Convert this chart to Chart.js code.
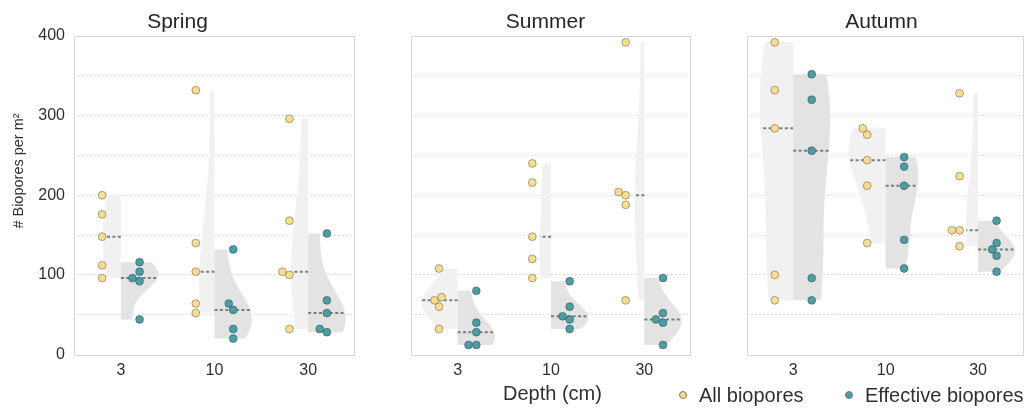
<!DOCTYPE html>
<html>
<head>
  <title>Biopores by depth</title>
  <script src="https://cdn.jsdelivr.net/npm/chart.js"></script>
  <style>
    body { margin: 0; background: #fff; width: 1029px; height: 413px; position: relative; overflow: hidden;
           font-family: 'Liberation Sans', Arial, sans-serif; color: #303030; }
    canvas { position: absolute; top: 0; }
    .lbl { position: absolute; white-space: nowrap; font-size: 20px; line-height: 20px; }
    .dot { display: inline-block; width: 6px; height: 6px; border-radius: 50%; border: 0.6px solid #777;
           vertical-align: middle; margin-right: 12px; position: relative; top: -2px; }
  </style>
</head>
<body>
<canvas id="c0" width="362" height="385" style="left:0px"></canvas>
<canvas id="c1" width="298" height="385" style="left:400px"></canvas>
<canvas id="c2" width="293" height="385" style="left:736px"></canvas>
<div class="lbl" style="left:503px; top:383px">Depth (cm)</div>
<div class="lbl" style="left:679px; top:385px"><span class="dot" style="background:#f9dd8b"></span>All biopores</div>
<div class="lbl" style="left:845px; top:385px"><span class="dot" style="background:#4a9ea6"></span>Effective biopores</div>

<script>
  const depths = ['3', '10', '30'];
  const seasons = ['Spring', 'Summer', 'Autumn'];
  const yTicks = [0, 50, 100, 150, 200, 250, 300, 350, 400];

  // biopores per m2, five samples per depth (3, 10, 30 cm)
  const springAll = [[96, 112, 148, 176, 200], [52, 64, 104, 140, 332], [32, 100, 104, 168, 296]];
  const springEff = [[44, 92, 96, 104, 116], [20, 32, 56, 64, 132], [28, 32, 52, 68, 152]];
  const summerAll = [[32, 60, 68, 72, 108], [96, 120, 148, 216, 240], [68, 188, 200, 204, 392]];
  const summerEff = [[12, 12, 28, 40, 80], [32, 44, 48, 60, 92], [12, 40, 44, 52, 96]];
  const autumnAll = [[68, 100, 284, 332, 392], [140, 212, 244, 276, 284], [136, 156, 156, 224, 328]];
  const autumnEff = [[68, 96, 256, 320, 352], [108, 144, 212, 236, 248], [104, 124, 132, 140, 168]];

  const allSets = [springAll, summerAll, autumnAll];
  const effSets = [springEff, summerEff, autumnEff];

  const yellow = '#f9dd8b', teal = '#4a9ea6';
  const lightViolin = '#f1f1f1', darkViolin = '#e3e3e3';
  const PX_X = 93.5, PX_Y = 0.797, DOT = 7.8;

  function kde(vals) {
    const n = vals.length;
    const mean = vals.reduce((a, b) => a + b, 0) / n;
    const sd = Math.sqrt(vals.reduce((a, b) => a + (b - mean) * (b - mean), 0) / (n - 1));
    const bw = sd * Math.pow(n, -0.2);
    const lo = Math.min(...vals), hi = Math.max(...vals);
    const ys = [], ds = [];
    for (let k = 0; k <= 100; k++) {
      const y = lo + (hi - lo) * k / 100;
      let d = 0;
      vals.forEach(v => { const z = (y - v) / bw; d += Math.exp(-0.5 * z * z); });
      ys.push(y); ds.push(d / (n * bw * Math.sqrt(2 * Math.PI)));
    }
    return { ys, ds, bw, vals };
  }

  function densityAt(k, y) {
    let d = 0;
    k.vals.forEach(v => { const z = (y - v) / k.bw; d += Math.exp(-0.5 * z * z); });
    return d / (k.vals.length * k.bw * Math.sqrt(2 * Math.PI));
  }

  function median(vals) {
    const s = [...vals].sort((a, b) => a - b);
    return s[Math.floor(s.length / 2)];
  }

  // simple beeswarm, offsets in pixels
  function swarm(vals) {
    const order = vals.map((v, i) => i).sort((a, b) => vals[a] - vals[b]);
    const placed = [], out = new Array(vals.length).fill(0);
    order.forEach(i => {
      const y = vals[i] * PX_Y;
      const cands = [0];
      placed.forEach(p => {
        const dy = y - p.y;
        if (Math.abs(dy) < DOT) {
          const dx = Math.sqrt(DOT * DOT - dy * dy);
          cands.push(p.x - dx, p.x + dx);
        }
      });
      cands.sort((a, b) => Math.abs(a) - Math.abs(b) || a - b);
      const x = cands.find(c => placed.every(p => (c - p.x) ** 2 + (y - p.y) ** 2 >= DOT * DOT - 0.01));
      placed.push({ x, y });
      out[i] = x;
    });
    return out;
  }

  function points(groups, side) {
    const pts = [];
    groups.forEach((vals, i) => {
      const off = swarm(vals);
      vals.forEach((v, j) => pts.push({ x: i + side * 0.2 + off[j] / PX_X, y: v }));
    });
    return pts;
  }

  const violinPlugin = {
    id: 'violins',
    beforeDatasetsDraw(chart) {
      const { ctx, scales: { x, y } } = chart;
      const p = chart.config.options.violinData;
      p.all.forEach((a, i) => {
        const ka = kde(a), ke = kde(p.eff[i]);
        const maxD = Math.max(...ka.ds, ...ke.ds);
        [[ka, -1, lightViolin], [ke, 1, darkViolin]].forEach(([k, side, col]) => {
          ctx.save();
          ctx.beginPath();
          ctx.moveTo(x.getPixelForValue(i), y.getPixelForValue(k.ys[0]));
          k.ys.forEach((yy, j) => ctx.lineTo(x.getPixelForValue(i + side * 0.4 * k.ds[j] / maxD), y.getPixelForValue(yy)));
          ctx.lineTo(x.getPixelForValue(i), y.getPixelForValue(k.ys[k.ys.length - 1]));
          ctx.closePath();
          ctx.fillStyle = col;
          ctx.fill();
          const m = median(k.vals);
          const w = 0.4 * densityAt(k, m) / maxD;
          ctx.beginPath();
          ctx.setLineDash([3, 2.4]);
          ctx.lineWidth = 2;
          ctx.strokeStyle = '#7c7c7c';
          ctx.moveTo(x.getPixelForValue(i), y.getPixelForValue(m));
          ctx.lineTo(x.getPixelForValue(i + side * w), y.getPixelForValue(m));
          ctx.stroke();
          ctx.restore();
        });
      });
    }
  };

  const framePlugin = {
    id: 'frame',
    beforeDatasetsDraw(chart) {
      const { ctx, chartArea: a } = chart;
      ctx.save();
      ctx.strokeStyle = '#d6d6d6';
      ctx.lineWidth = 1;
      ctx.strokeRect(Math.round(a.left) + 0.5, Math.round(a.top) + 0.5, Math.round(a.right - a.left) - 1, Math.round(a.bottom - a.top));
      ctx.restore();
    }
  };

  const yTitlePlugin = {
    id: 'ytitle',
    afterDraw(chart) {
      if (!chart.config.options.showYTitle) return;
      const ctx = chart.ctx;
      ctx.save();
      ctx.translate(19, 171);
      ctx.rotate(-Math.PI / 2);
      ctx.textAlign = 'center';
      ctx.textBaseline = 'middle';
      ctx.fillStyle = '#303030';
      ctx.font = "14.5px 'Liberation Sans', Arial, sans-serif";
      ctx.fillText('# Biopores per m\u00b2', 0, 0);
      ctx.restore();
    }
  };

  const layout = [
    { yWidth: 74, padRight: 7 },
    { yWidth: 11, padRight: 7 },
    { yWidth: 11, padRight: 2 }
  ];

  seasons.forEach((season, s) => {
    const ctx = document.getElementById('c' + s).getContext('2d');
    new Chart(ctx, {
      type: 'scatter',
      data: {
        datasets: [{
          label: 'All biopores',
          data: points(allSets[s], -1),
          backgroundColor: yellow,
          borderColor: 'rgba(90,90,80,0.75)',
          borderWidth: 0.7,
          pointRadius: 3.9
        }, {
          label: 'Effective biopores',
          data: points(effSets[s], 1),
          backgroundColor: teal,
          borderColor: 'rgba(50,70,70,0.75)',
          borderWidth: 0.7,
          pointRadius: 3.9
        }]
      },
      options: {
        responsive: false,
        animation: false,
        events: [],
        violinData: { all: allSets[s], eff: effSets[s] },
        showYTitle: s === 0,
        layout: { padding: { right: layout[s].padRight } },
        plugins: {
          legend: { display: false },
          tooltip: { enabled: false },
          title: {
            display: true,
            text: season,
            color: '#262626',
            font: { size: 21, weight: 'normal', family: "'Liberation Sans', Arial, sans-serif" },
            padding: { top: 10, bottom: 0.8 }
          }
        },
        scales: {
          x: {
            type: 'linear',
            min: -0.5,
            max: 2.5,
            afterBuildTicks: sc => { sc.ticks = depths.map((d, i) => ({ value: i })); },
            afterFit: sc => { sc.height = 30.5; },
            ticks: {
              callback: v => depths[v],
              autoSkip: false,
              maxRotation: 0,
              padding: -2,
              color: '#303030',
              font: { size: 16, family: "'Liberation Sans', Arial, sans-serif" }
            },
            grid: { display: false },
            border: { display: false }
          },
          y: {
            min: 0,
            max: 400,
            afterBuildTicks: sc => { sc.ticks = yTicks.map(v => ({ value: v })); },
            afterFit: sc => { sc.width = layout[s].yWidth; },
            ticks: {
              display: s === 0,
              callback: v => (v % 100 === 0 ? v : ''),
              padding: 9,
              color: '#303030',
              font: { size: 16, family: "'Liberation Sans', Arial, sans-serif" }
            },
            grid: {
              drawTicks: false,
              lineWidth: 1,
              color: c => (c.tick.value === 0 || c.tick.value === 400) ? 'rgba(0,0,0,0)' : '#cfcfcf'
            },
            border: { display: false, dash: [1.5, 2.5] }
          }
        }
      },
      plugins: [framePlugin, violinPlugin, yTitlePlugin]
    });
  });
</script>
</body>
</html>
